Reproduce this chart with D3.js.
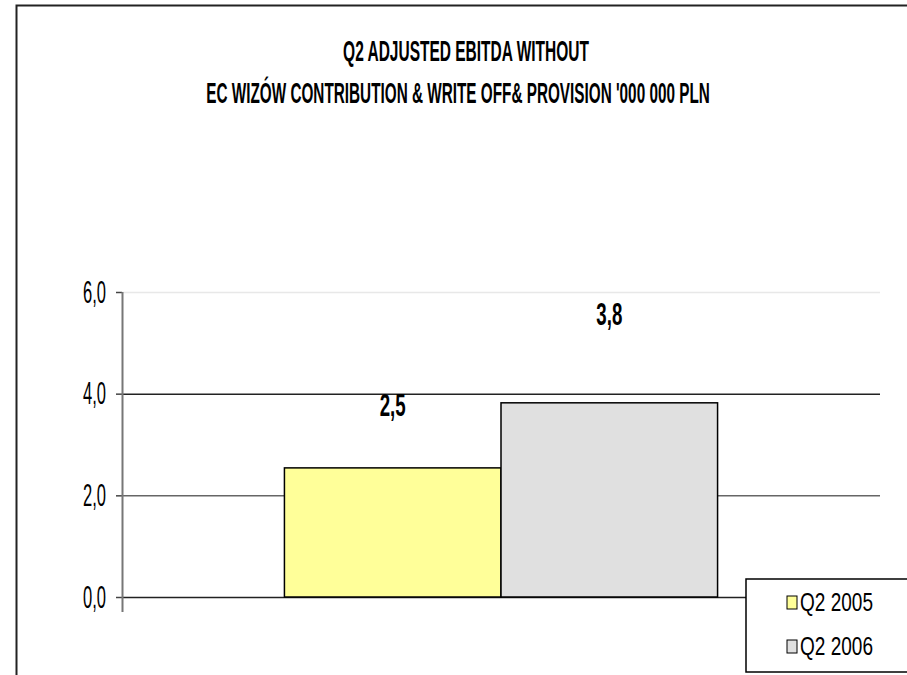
<!DOCTYPE html>
<html>
<head>
<meta charset="utf-8">
<script src="https://d3js.org/d3.v7.min.js"></script>
<style>
  body { margin: 0; background: #fff; }
  text { font-family: "Liberation Sans", Arial, sans-serif; }
</style>
</head>
<body>
<div id="chart"></div>
<script>
// chart data
var categories = [""];
var seriesNames = ["Q2 2005", "Q2 2006"];
var seriesValues = [2.54, 3.82];
var valueLabels = ["2,5", "3,8"];
var yTicks = [0, 2, 4, 6];
var yTickLabels = ["0,0", "2,0", "4,0", "6,0"];
var titleLines = ["Q2 ADJUSTED EBITDA WITHOUT", "EC WIZÓW CONTRIBUTION & WRITE OFF& PROVISION '000 000 PLN"];

var seriesColors = ["#FFFF99", "#E0E0E0"];

// dimensions
var svgWidth = 907;
var svgHeight = 675;

var margin = {
    top: 292,
    right: 27,
    bottom: 78,
    left: 122
};

var width = svgWidth - margin.left - margin.right;
var height = svgHeight - margin.top - margin.bottom;

var svg = d3.select("#chart")
    .append("svg")
    .attr("width", svgWidth)
    .attr("height", svgHeight);

// outer frame (cut off at right and bottom like the source)
svg.append("rect")
    .attr("x", 16.5)
    .attr("y", 5.5)
    .attr("width", 1000)
    .attr("height", 1000)
    .attr("fill", "#fff")
    .attr("stroke", "#222")
    .attr("stroke-width", 2);

// squeeze a text horizontally to a target width (narrow font look)
function squeeze(sel, targetW, cx, y) {
    sel.each(function(d, i) {
        var natural = this.getComputedTextLength();
        var w = typeof targetW === "function" ? targetW(d, i) : targetW;
        var x = typeof cx === "function" ? cx(d, i) : cx;
        var yy = typeof y === "function" ? y(d, i) : y;
        d3.select(this)
            .attr("transform", `translate(${x}, ${yy}) scale(${w / natural}, 1)`);
    });
}

// title
var titleCx = [466, 458];
var titleY = [61, 103];
var titleLen = [246, 504];
var titles = svg.selectAll(".title")
    .data(titleLines)
    .enter()
    .append("text")
    .attr("class", "title")
    .attr("text-anchor", "middle")
    .attr("font-size", "30px")
    .attr("font-weight", "bold")
    .attr("fill", "#000")
    .text(function(d) { return d; });
squeeze(titles,
    function(d, i) { return titleLen[i]; },
    function(d, i) { return titleCx[i]; },
    function(d, i) { return titleY[i]; });

var chartGroup = svg.append("g")
    .attr("transform", `translate(${margin.left}, ${margin.top})`);

// scales
var yScale = d3.scaleLinear()
    .domain([0, 6])
    .range([height, 0]);

var x0 = d3.scaleBand()
    .domain(categories)
    .range([0, width])
    .paddingInner(0)
    .paddingOuter(0.375);

var x1 = d3.scaleBand()
    .domain(seriesNames)
    .range([0, x0.bandwidth()]);

// gridlines
var gridColors = { 0: "#222", 2: "#666", 4: "#222", 6: "#e8e8e8" };
chartGroup.selectAll(".grid")
    .data(yTicks)
    .enter()
    .append("line")
    .attr("class", "grid")
    .attr("x1", 0)
    .attr("x2", width)
    .attr("y1", function(d) { return yScale(d) + 0.5; })
    .attr("y2", function(d) { return yScale(d) + 0.5; })
    .attr("stroke", function(d) { return gridColors[d]; })
    .attr("stroke-width", 1.5);

// y axis
var yAxis = d3.axisLeft(yScale)
    .tickValues(yTicks)
    .tickFormat(function(d, i) { return yTickLabels[i]; })
    .tickSizeInner(6)
    .tickSizeOuter(0)
    .tickPadding(10);

var yAxisGroup = chartGroup.append("g")
    .call(yAxis);
yAxisGroup.select(".domain").remove();
yAxisGroup.selectAll(".tick line")
    .attr("stroke", "#444")
    .attr("stroke-width", 1.5);
var tickText = yAxisGroup.selectAll(".tick text")
    .attr("font-size", "32px")
    .attr("fill", "#000")
    .attr("x", 0);
squeeze(tickText, 23, -16, 0);

// axis line, runs a little below zero
chartGroup.append("line")
    .attr("x1", 0.5)
    .attr("x2", 0.5)
    .attr("y1", yScale(6))
    .attr("y2", yScale(0) + 15)
    .attr("stroke", "#777")
    .attr("stroke-width", 2);

// bars
var bars = chartGroup.selectAll(".bar")
    .data(seriesValues)
    .enter()
    .append("rect")
    .attr("class", "bar")
    .attr("x", function(d, i) { return x0(categories[0]) + x1(seriesNames[i]); })
    .attr("y", function(d) { return yScale(d); })
    .attr("width", x1.bandwidth())
    .attr("height", function(d) { return yScale(0) - yScale(d); })
    .attr("fill", function(d, i) { return seriesColors[i]; })
    .attr("stroke", "#000")
    .attr("stroke-width", 1.5);

// value labels
var vlabels = chartGroup.selectAll(".vlabel")
    .data(seriesValues)
    .enter()
    .append("text")
    .attr("class", "vlabel")
    .attr("text-anchor", "middle")
    .attr("font-size", "31px")
    .attr("font-weight", "bold")
    .text(function(d, i) { return valueLabels[i]; });
squeeze(vlabels, 26,
    function(d, i) { return x0(categories[0]) + x1(seriesNames[i]) + x1.bandwidth() / 2; },
    function(d) { return yScale(d * 1.4); });

// legend
var legend = svg.append("g")
    .attr("transform", "translate(746, 579)");

legend.append("rect")
    .attr("x", 0)
    .attr("y", 0)
    .attr("width", 200)
    .attr("height", 93)
    .attr("fill", "#fff")
    .attr("stroke", "#000")
    .attr("stroke-width", 1.5);

var legendItems = legend.selectAll(".item")
    .data(seriesNames)
    .enter()
    .append("g")
    .attr("class", "item")
    .attr("transform", function(d, i) { return `translate(41, ${23 + i * 44})`; });

legendItems.append("rect")
    .attr("x", 0)
    .attr("y", -6)
    .attr("width", 10)
    .attr("height", 13)
    .attr("fill", function(d, i) { return seriesColors[i]; })
    .attr("stroke", "#000")
    .attr("stroke-width", 1);

var legendText = legendItems.append("text")
    .attr("font-size", "25px")
    .text(function(d) { return d; });
squeeze(legendText, 73, 13, 9);
</script>
</body>
</html>
